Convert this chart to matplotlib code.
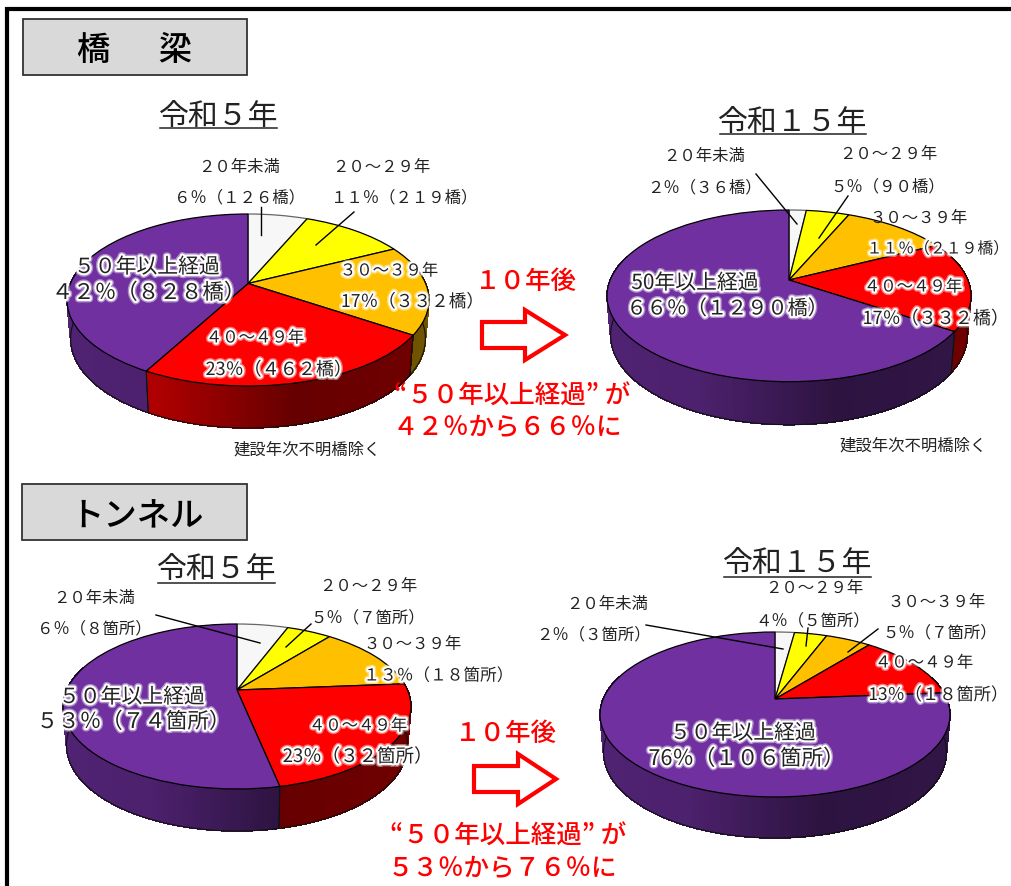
import numpy as np
import matplotlib
matplotlib.use('Agg')
import matplotlib.pyplot as plt
import matplotlib.patheffects as pe
from matplotlib.collections import PolyCollection
from matplotlib.patches import Polygon, Rectangle
from matplotlib.transforms import Transform

plt.rcParams['font.family'] = ['Noto Sans CJK JP', 'DejaVu Sans']

## DATA
bridge_r5 = [126, 219, 332, 462, 828]
bridge_r15 = [36, 90, 219, 332, 1290]
tunnel_r5 = [8, 7, 18, 32, 74]
tunnel_r15 = [3, 5, 7, 18, 106]

colors = ['#F7F7F7', '#FFFF00', '#FFC000', '#FF0000', '#7030A0']

age_labels = ['２０年未満', '２０～２９年', '３０～３９年', '４０～４９年', '５０年以上経過']

bridge_r5_labels = ['６％（１２６橋）', '１１％（２１９橋）', '17％（３３２橋）', '23％（４６２橋）', '４２％（８２８橋）']
bridge_r15_labels = ['２％（３６橋）', '５％（９０橋）', '１１％（２１９橋）', '17％（３３２橋）', '６６％（１２９０橋）']
tunnel_r5_labels = ['６％（８箇所）', '５％（７箇所）', '１３％（１８箇所）', '23％（３２箇所）', '５３％（７４箇所）']
tunnel_r15_labels = ['２％（３箇所）', '４％（５箇所）', '５％（７箇所）', '13％（１８箇所）', '76％（１０６箇所）']


class Persp(Transform):
    # unit circle -> tilted pie top, in picture pixels
    input_dims = 2
    output_dims = 2

    def __init__(self, cx, cy, rx, top, bot):
        super().__init__()
        self.cx = cx
        self.cy = cy
        self.k = (top-bot)/(top+bot)
        self.a = rx*np.sqrt(1-self.k**2)
        self.b = top*(1-self.k)

    def transform_non_affine(self, values):
        values = np.asarray(values)
        w = 1-self.k*values[:, 1]
        return np.column_stack([self.cx+self.a*values[:, 0]/w, self.cy-self.b*values[:, 1]/w])


fig = plt.figure(figsize=(10.11, 8.86), dpi=100)
ax = fig.add_axes([0, 0, 1, 1])


def pie3d(values, cx, cy, rx, top, bot, depth):
    tr = Persp(cx, cy, rx, top, bot)
    wedges, _ = ax.pie(values, colors=colors, startangle=90, counterclock=False,
                       wedgeprops={'edgecolor': 'black', 'linewidth': 0.9})
    wedges[0].set_edgecolor('#666666')
    for w in wedges:
        w.set_transform(tr+ax.transData)
        w.set_zorder(3)

    # side wall, one thin strip per degree
    def rim(theta):
        t = np.radians(theta)
        p = tr.transform_non_affine(np.column_stack([np.cos(t), np.sin(t)]))
        q = p.copy()
        q[:, 0] = cx+(p[:, 0]-cx)*0.98
        q[:, 1] = p[:, 1]+depth*(0.9+0.1*np.clip(-np.sin(t), 0, 1))
        return p, q

    for w in wedges:
        lo, hi = min(w.theta1, w.theta2), max(w.theta1, w.theta2)
        th = np.arange(lo, hi+1.0, 1.0)
        th[-1] = hi
        th = th[np.sin(np.radians(th)) < 0.3]
        if len(th) < 2:
            continue
        p, q = rim(th)
        xn = (p[:, 0]-cx)/rx
        shade = np.interp(xn, [-1, -0.5, 0.25, 1], [0.72, 0.68, 0.4, 0.44])
        base = np.array(matplotlib.colors.to_rgb(w.get_facecolor()))
        polys = [[p[i], p[i+1], q[i+1], q[i]] for i in range(len(th)-1)]
        cols = [base*s for s in shade[:-1]]
        ax.add_collection(PolyCollection(polys, facecolors=cols, edgecolors=cols, linewidths=0.5,
                                         antialiaseds=False, zorder=2))
        front = np.sin(np.radians(th)) < 0.02
        ax.plot(q[front, 0], q[front, 1], color='#111111', lw=0.8, zorder=2.5)
        for i in [0, -1]:
            if front[i]:
                ax.plot([p[i, 0], q[i, 0]], [p[i, 1], q[i, 1]], color='#111111', lw=0.7, zorder=2.5)


def label(x, y, s, size=11.8, glow=False):
    # closing bracket glyph is half blank, so push the text back to the right
    if s.endswith('）'):
        x = x+0.35*size
    t = ax.text(x, y+1, s, ha='center', va='center', fontsize=size, color='#222222', zorder=6)
    if glow:
        t.set_path_effects([pe.withStroke(linewidth=5, foreground='#FFFFFF', alpha=0.45),
                            pe.withStroke(linewidth=3, foreground='#FFFFFF')])


def year_title(x0, x1, y, yline, s):
    ax.text((x0+x1)/2, y+2, s, ha='center', va='center', fontsize=21.5, color='#222222')
    ax.plot([x0, x1], [yline, yline], color='#222222', lw=1.1)


def header(x0, x1, y0, y1, s, xt, yt):
    ax.add_patch(Rectangle((x0, y0), x1-x0, y1-y0, facecolor='#D9D9D9', edgecolor='#333333', lw=1.3))
    ax.text(xt, yt, s, ha='center', va='center', fontsize=24, color='black', fontweight='medium')


def big_arrow(x0, xh, xt, yc, shaft, head):
    pts = [(x0, yc-shaft), (xh, yc-shaft), (xh, yc-head), (xt, yc), (xh, yc+head), (xh, yc+shaft), (x0, yc+shaft)]
    ax.add_patch(Polygon(pts, closed=True, facecolor='white', edgecolor='#FF0000', lw=3, joinstyle='miter'))


def red(x, y, s, size=18.4):
    ax.text(x, y+1, s, ha='center', va='center', fontsize=size, color='#FF0000', fontweight='medium')


def leader(x0, y0, x1, y1):
    ax.plot([x0, x1], [y0, y1], color='black', lw=1.0, zorder=5)


## PIES
pie3d(bridge_r5, 248, 283.5, 181, 69.5, 102.5, 42)
pie3d(bridge_r15, 789, 280, 182, 70, 101.7, 43)
pie3d(tunnel_r5, 237, 690, 174, 66, 99, 42)
pie3d(tunnel_r15, 775, 699, 175, 67, 98, 41)

## FRAME AND HEADERS
ax.plot([7, 7, 1011], [886, 9, 9], color='black', lw=3, solid_joinstyle='miter')
header(23, 247, 19, 75, '橋　  梁', 135, 50)
header(22, 247, 484, 540, 'トンネル', 137, 517)

year_title(160, 277, 114, 128, '令和５年')
year_title(720, 866, 120, 134, '令和１５年')
year_title(158, 275, 568, 583, '令和５年')
year_title(724, 871, 562, 577, '令和１５年')

## BRIDGE R5
label(239, 166, age_labels[0])
label(235, 197, bridge_r5_labels[0])
label(381, 166, age_labels[1])
label(400, 197, bridge_r5_labels[1])
label(389, 270, age_labels[2], glow=True)
label(408, 301, bridge_r5_labels[2], size=12.7, glow=True)
label(255, 337, age_labels[3], glow=True)
label(274, 369, bridge_r5_labels[3], size=13, glow=True)
label(147, 266, age_labels[4], size=15, glow=True)
label(143, 292, bridge_r5_labels[4], size=15.5, glow=True)
leader(261, 207, 261, 235)
leader(354, 212, 316, 245)

## BRIDGE R15
label(704, 155, age_labels[0])
label(700, 187, bridge_r15_labels[0])
label(888, 153, age_labels[1])
label(884, 186, bridge_r15_labels[1])
label(919, 217, age_labels[2])
label(934, 248, bridge_r15_labels[2], size=11.4, glow=True)
label(913, 286, age_labels[3], glow=True)
label(931, 318, bridge_r15_labels[3], size=13, glow=True)
label(695, 282, '50年以上経過', size=15, glow=True)
label(722, 308, bridge_r15_labels[4], size=14.5, glow=True)
leader(756, 174, 797, 224)
leader(848, 196, 819, 238)

## TUNNEL R5
label(94, 597, age_labels[0])
label(90, 628, tunnel_r5_labels[0])
label(368, 585, age_labels[1])
label(364, 617, tunnel_r5_labels[1])
label(413, 644, age_labels[2])
label(434, 675, tunnel_r5_labels[2], size=12, glow=True)
label(358, 725, age_labels[3], glow=True)
label(353, 756, tunnel_r5_labels[3], size=13.3, glow=True)
label(132, 696, age_labels[4], size=15, glow=True)
label(128, 721, tunnel_r5_labels[4], size=15.5, glow=True)
leader(156, 615, 260, 643)
leader(311, 624, 286, 647)

## TUNNEL R15
label(607, 603, age_labels[0])
label(589, 634, tunnel_r15_labels[0])
label(814, 588, age_labels[1])
label(809, 620, tunnel_r15_labels[1])
label(937, 601, age_labels[2])
label(936, 632, tunnel_r15_labels[2])
label(924, 662, age_labels[3], glow=True)
label(934, 694, tunnel_r15_labels[3], size=12.4, glow=True)
label(743, 732, age_labels[4], size=15, glow=True)
label(741, 758, tunnel_r15_labels[4], size=15.5, glow=True)
leader(646, 625, 783, 649)
leader(808, 628, 806, 646)
leader(878, 629, 848, 652)

## NOTES AND ARROWS
label(307, 449, '建設年次不明橋除く')
label(913, 445, '建設年次不明橋除く')

red(526, 280, '１０年後')
red(506, 732, '１０年後')
big_arrow(482, 525, 565, 335, 13, 25)
big_arrow(474, 518, 556, 779, 13, 25)

red(512, 395, '“５０年以上経過” が')
red(507, 426, '４２％から６６％に')
red(508, 835, '“５０年以上経過” が')
red(502, 867, '５３％から７６％に')

ax.set_aspect('auto')
ax.set_xlim(0, 1011)
ax.set_ylim(886, 0)
ax.axis('off')

fig.savefig('out.png', dpi=100)
